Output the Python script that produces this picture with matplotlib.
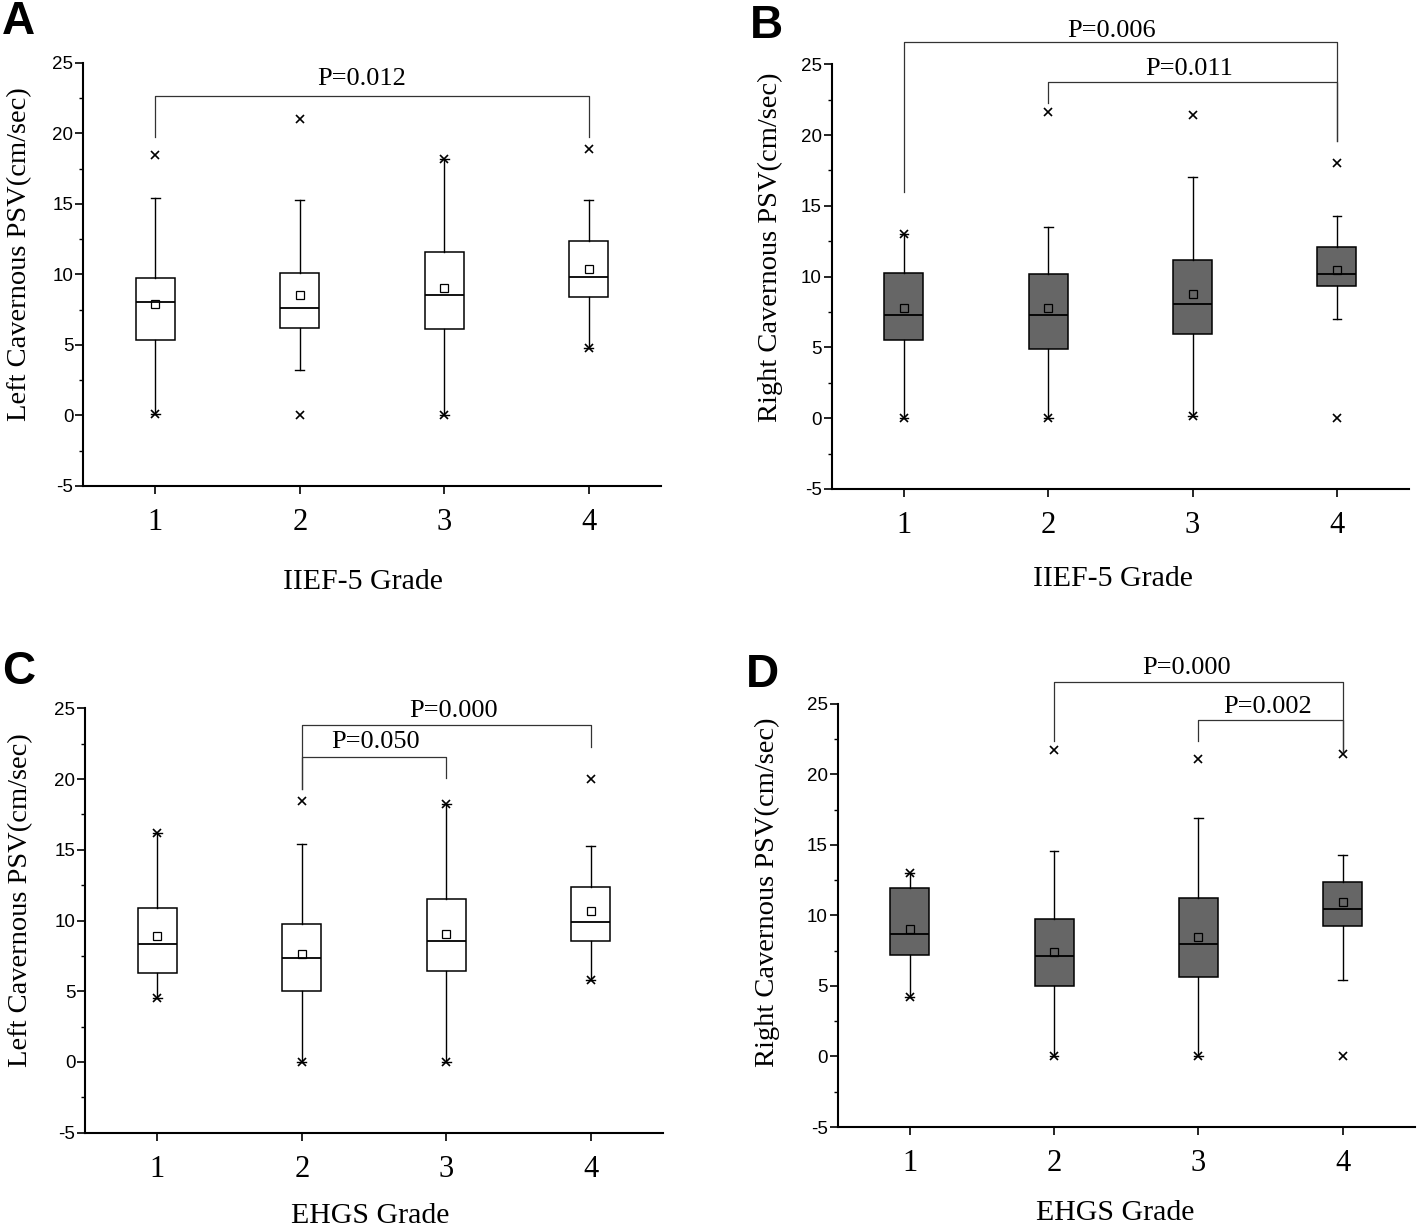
import numpy as np
import matplotlib.pyplot as plt
from matplotlib.ticker import MultipleLocator

plt.rcParams['axes.unicode_minus'] = False

# x categories (grade 1-4)
grades = [1, 2, 3, 4]

# box stats: q1, median, q3, mean, whisker low/high, min/max markers
a_q1 = [5.38, 6.22, 6.11, 8.41]
a_med = [8.03, 7.59, 8.57, 9.81]
a_q3 = [9.73, 10.08, 11.59, 12.38]
a_mean = [7.90, 8.57, 9.03, 10.38]
a_wlo = [0.08, 3.22, 0.0, 4.81]
a_whi = [15.43, 15.30, 18.19, 15.30]
a_min = [0.08, 0.0, 0.0, 4.81]
a_max = [18.46, 21.0, 18.19, 18.89]

b_q1 = [5.50, 4.90, 5.96, 9.31]
b_med = [7.31, 7.26, 8.04, 10.18]
b_q3 = [10.29, 10.18, 11.21, 12.08]
b_mean = [7.77, 7.77, 8.75, 10.48]
b_wlo = [0.0, 0.0, 0.16, 6.99]
b_whi = [13.0, 13.54, 17.06, 14.30]
b_min = [0.0, 0.0, 0.16, 0.0]
b_max = [13.0, 21.66, 21.45, 18.0]

c_q1 = [6.30, 5.00, 6.41, 8.54]
c_med = [8.32, 7.37, 8.54, 9.92]
c_q3 = [10.90, 9.73, 11.52, 12.39]
c_mean = [8.88, 7.66, 9.07, 10.66]
c_wlo = [4.52, 0.0, 0.0, 5.80]
c_whi = [16.20, 15.40, 18.22, 15.29]
c_min = [4.52, 0.0, 0.0, 5.80]
c_max = [16.20, 18.43, 18.22, 20.03]

d_q1 = [7.19, 4.96, 5.60, 9.26]
d_med = [8.65, 7.09, 7.99, 10.46]
d_q3 = [11.92, 9.74, 11.20, 12.37]
d_mean = [9.00, 7.43, 8.47, 10.96]
d_wlo = [4.22, 0.0, 0.0, 5.42]
d_whi = [13.0, 14.57, 16.88, 14.28]
d_min = [4.22, 0.0, 0.0, 0.0]
d_max = [13.0, 21.71, 21.10, 21.40]

# significance brackets: (from, to, bar y, left leg end, right leg end, label, text x, text y)
a_sig = [(1, 4, 22.65, 19.75, 19.75, 'P=0.012', 2.43, 23.85)]
b_sig = [(1, 4, 26.54, 15.98, 19.55, 'P=0.006', 2.44, 27.35),
         (2, 4, 23.77, 22.29, 19.55, 'P=0.011', 2.98, 24.67)]
c_sig = [(2, 4, 23.83, 19.30, 22.29, 'P=0.000', 3.05, 24.81),
         (2, 3, 21.54, 19.30, 20.08, 'P=0.050', 2.51, 22.62)]
d_sig = [(2, 4, 26.52, 22.38, 21.60, 'P=0.000', 2.92, 27.53),
         (3, 4, 23.81, 22.38, 21.60, 'P=0.002', 3.48, 24.77)]

SERIF = 'Liberation Serif'
SANS = 'Liberation Sans'

W, H = 1418, 1229
fig = plt.figure(figsize=(W / 100, H / 100), dpi=100)


def px_axes(x0, y_top, x1, y_bot):
    return fig.add_axes([x0 / W, 1 - y_bot / H, (x1 - x0) / W, (y_bot - y_top) / H])


def draw_panel(ax, q1, med, q3, mean, wlo, whi, mn, mx, sig, fill, ylabel, xlabel,
               ylab_pos, xlab_pos):
    stats = []
    for i in range(len(grades)):
        stats.append(dict(q1=q1[i], med=med[i], q3=q3[i], mean=mean[i],
                          whislo=wlo[i], whishi=whi[i], fliers=[mn[i], mx[i]]))
    ax.bxp(stats, positions=grades, widths=0.27, patch_artist=True,
           showmeans=True, showfliers=True, capwidths=0.06,
           boxprops=dict(facecolor=fill, edgecolor='black', linewidth=1.1),
           medianprops=dict(color='black', linewidth=1.3),
           whiskerprops=dict(color='black', linewidth=1.0),
           capprops=dict(color='black', linewidth=1.0),
           meanprops=dict(marker='s', markersize=5.5, markerfacecolor='none',
                          markeredgecolor='black', markeredgewidth=0.9),
           flierprops=dict(marker='x', markersize=5.5, markeredgecolor='black',
                           markeredgewidth=1.2))

    for x1, x2, yb, l1, l2, lab, tx, ty in sig:
        ax.plot([x1, x1, x2, x2], [l1, yb, yb, l2], color='#333333', lw=0.9,
                clip_on=False)
        ax.text(tx, ty, lab, ha='center', va='center', fontsize=19, family=SERIF,
                clip_on=False)

    ax.set_xlim(0.5, 4.5)
    ax.set_ylim(-5, 25)
    ax.spines['top'].set_visible(False)
    ax.spines['right'].set_visible(False)
    ax.spines['left'].set_linewidth(1.5)
    ax.spines['bottom'].set_linewidth(1.5)

    ax.set_xticks(grades)
    ax.set_xticklabels([str(g) for g in grades], family=SERIF, fontsize=22)
    ax.tick_params(axis='x', direction='out', length=6, width=1.2, pad=10)

    yt = np.arange(-5, 26, 5)
    ax.set_yticks(yt)
    ax.set_yticklabels([str(v) for v in yt], family=SANS, fontsize=13.5)
    ax.yaxis.set_minor_locator(MultipleLocator(2.5))
    ax.tick_params(axis='y', which='major', direction='out', length=5.5, width=1.2, pad=1.5)
    ax.tick_params(axis='y', which='minor', direction='out', length=3, width=1.0)

    ax.set_ylabel(ylabel, family=SERIF, fontsize=20.5)
    ax.yaxis.set_label_coords(*ylab_pos)
    ax.set_xlabel(xlabel, family=SERIF, fontsize=21.5)
    ax.xaxis.set_label_coords(*xlab_pos)


ax_a = px_axes(83, 62.7, 661, 486)
ax_b = px_axes(831.7, 64.3, 1409, 489)
ax_c = px_axes(85, 708.3, 663, 1132.7)
ax_d = px_axes(837.6, 703.7, 1415, 1127)

draw_panel(ax_a, a_q1, a_med, a_q3, a_mean, a_wlo, a_whi, a_min, a_max, a_sig, 'white',
           'Left Cavernous PSV(cm/sec)', 'IIEF-5 Grade', (-0.088, 0.548), (0.484, -0.196))
draw_panel(ax_b, b_q1, b_med, b_q3, b_mean, b_wlo, b_whi, b_min, b_max, b_sig, '#666666',
           'Right Cavernous PSV(cm/sec)', 'IIEF-5 Grade', (-0.085, 0.57), (0.487, -0.181))
draw_panel(ax_c, c_q1, c_med, c_q3, c_mean, c_wlo, c_whi, c_min, c_max, c_sig, 'white',
           'Left Cavernous PSV(cm/sec)', 'EHGS Grade', (-0.09, 0.548), (0.493, -0.166))
draw_panel(ax_d, d_q1, d_med, d_q3, d_mean, d_wlo, d_whi, d_min, d_max, d_sig, '#666666',
           'Right Cavernous PSV(cm/sec)', 'EHGS Grade', (-0.10, 0.555), (0.48, -0.172))

# panel letters
for lab, x, y in [('A', 2, 0), ('B', 750, 4), ('C', 2, 650), ('D', 746, 653)]:
    fig.text(x / W, 1 - y / H, lab, ha='left', va='top', fontsize=33,
             fontweight='bold', family=SANS)

fig.savefig('out.png', dpi=100)
